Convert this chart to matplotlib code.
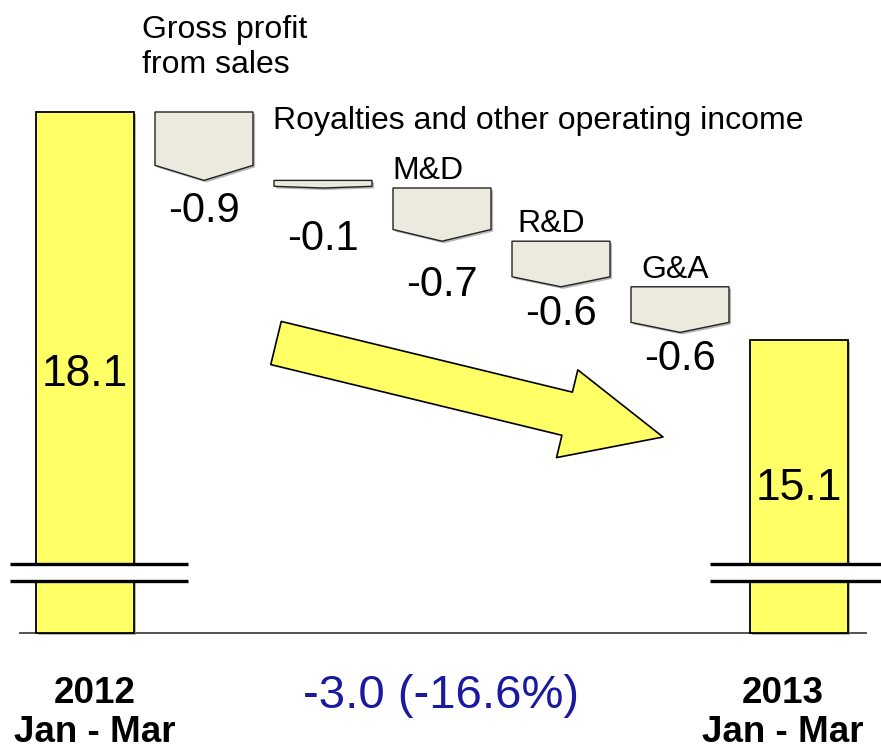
import matplotlib
matplotlib.use("Agg")
import matplotlib.pyplot as plt
from matplotlib.patches import Polygon
import matplotlib.patheffects as pe

plt.rcParams['font.family'] = ['Liberation Sans', 'DejaVu Sans']

# ---------------- data ----------------
start_label = "2012\nJan - Mar"
end_label = "2013\nJan - Mar"
start_value = 18.1
end_value = 15.1
step_labels = ["Gross profit\nfrom sales", "Royalties and other operating income",
               "M&D", "R&D", "G&A"]
step_changes = [-0.9, -0.1, -0.7, -0.6, -0.6]
step_value_texts = ["-0.9", "-0.1", "-0.7", "-0.6", "-0.6"]
total_change_text = "-3.0 (-16.6%)"

# ---------------- layout helpers (pixel -> data) ----------------
W, H = 881, 749
X0_PX, PX_PER_X = 85, 119
Y_REF_PX, PX_PER_V = 112, 76


def vx(px):
    return (px - X0_PX) / PX_PER_X


def vy(py):
    return start_value - (py - Y_REF_PX) / PX_PER_V


def dpx(n_px):
    return n_px / PX_PER_V


fig = plt.figure(figsize=(W / 100, H / 100), dpi=100)
ax = fig.add_axes([0, 0, 1, 1])
ax.set_xlim(vx(0), vx(W))
ax.set_ylim(vy(H), vy(0))
ax.axis('off')

yellow = '#FFFF66'
grey_fill = '#ECEADF'
bar_w = 98 / PX_PER_X
base = vy(633)           # broken-axis baseline
shadow = [pe.SimplePatchShadow(offset=(1.5, -1.5), shadow_rgbFace='#888888', alpha=0.6), pe.Normal()]

n = len(step_changes)
x_start, x_end = 0, n + 1

# baseline
ax.plot([vx(20), vx(866)], [base, base], color='#444444', lw=1.3, zorder=1)

# end bars
for xi, val in [(x_start, start_value), (x_end, end_value)]:
    ax.bar(xi, val - base, bottom=base, width=bar_w, color=yellow, edgecolor='black',
           linewidth=1.3, zorder=2, path_effects=shadow)

# step pentagons
tops, tips = [], []
running = start_value
for i, d in enumerate(step_changes):
    xc = i + 1
    top = running
    bot = running + d
    h = top - bot
    depth = 0.22 * h
    pts = [(xc - bar_w / 2, top), (xc + bar_w / 2, top), (xc + bar_w / 2, bot + depth),
           (xc, bot), (xc - bar_w / 2, bot + depth)]
    ax.add_patch(Polygon(pts, closed=True, facecolor=grey_fill, edgecolor='#222222',
                         linewidth=1.0, zorder=2, path_effects=shadow))
    tops.append(top)
    tips.append(bot)
    running = bot

# axis break marks
gap_hi, gap_lo = vy(564), vy(581)
for x_left, x_right, xi in [(vx(10), vx(188), x_start), (vx(710), vx(881), x_end)]:
    ax.fill_between([xi - bar_w / 2 - 0.03, xi + bar_w / 2 + 0.03], gap_lo, gap_hi,
                    color='white', zorder=3, lw=0)
    for yy in (gap_hi, gap_lo):
        ax.plot([x_left, x_right], [yy, yy], color='black', lw=2.4, zorder=4,
                solid_capstyle='butt')

# big trend arrow
ax.annotate('', xy=(vx(663), vy(437)), xytext=(vx(276), vy(343)),
            arrowprops=dict(arrowstyle='simple,head_length=7.1,head_width=6.5,tail_width=3.2',
                            mutation_scale=10, fc=yellow, ec='black', lw=1.2,
                            shrinkA=0, shrinkB=0), zorder=5)

# value labels of end bars
ax.text(x_start, vy(375), f"{start_value:.1f}", ha='center', va='center', fontsize=32, zorder=6)
ax.text(x_end, vy(488), f"{end_value:.1f}", ha='center', va='center', fontsize=32, zorder=6)

# step category labels
ax.text(vx(142), vy(73), step_labels[0], ha='left', va='baseline', fontsize=23,
        linespacing=1.23)
ax.text(vx(273), vy(129), step_labels[1], ha='left', va='baseline', fontsize=23)
cat_left_px = [392, 517, 641]
for lab, px, top in zip(step_labels[2:], cat_left_px, tops[2:]):
    ax.text(vx(px), top + dpx(9), lab, ha='left', va='baseline', fontsize=23)

# step value labels (baseline offset below arrow tip, in px)
val_offset_px = [42, 62, 55, 38, 38]
for i, (t, tip, off) in enumerate(zip(step_value_texts, tips, val_offset_px)):
    ax.text(i + 1, tip - dpx(off), t, ha='center', va='baseline', fontsize=30)

# bottom labels
ax.text(vx(95), vy(742), start_label, ha='center', va='baseline', fontsize=26.5,
        fontweight='bold', linespacing=1.15)
ax.text(vx(783), vy(742), end_label, ha='center', va='baseline', fontsize=26.5,
        fontweight='bold', linespacing=1.15)
ax.text(vx(441), vy(708), total_change_text, ha='center', va='baseline', fontsize=34,
        color='#1A1AA0')

fig.savefig('out.png', dpi=100)
